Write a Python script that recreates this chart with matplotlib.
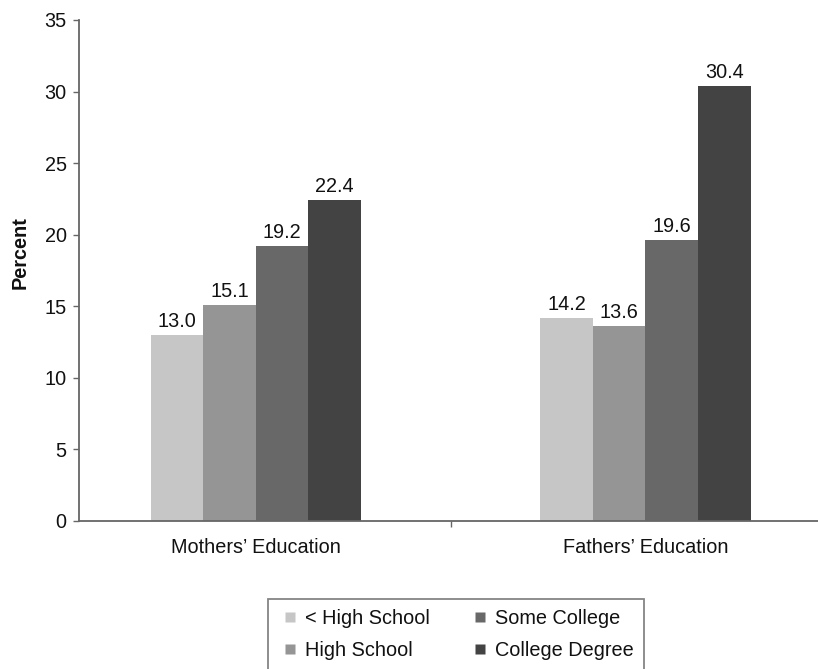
import matplotlib
matplotlib.use("Agg")
import matplotlib.pyplot as plt
import numpy as np
from matplotlib.lines import Line2D

groups = ["Mothers\u2019 Education", "Fathers\u2019 Education"]
series = ["< High School", "High School", "Some College", "College Degree"]
values = {
    "< High School": [13.0, 14.2],
    "High School": [15.1, 13.6],
    "Some College": [19.2, 19.6],
    "College Degree": [22.4, 30.4],
}
colors = ["#c6c6c6", "#959595", "#686868", "#434343"]
yticks = [0, 5, 10, 15, 20, 25, 30, 35]

plt.rcParams['font.family'] = ['Liberation Sans', 'DejaVu Sans']
FS = 14.3

fig = plt.figure(figsize=(8.18, 6.69), dpi=100)
ax = fig.add_axes([79/818, 1-521/669, 1-79/818, (521-20)/669])

x = np.arange(len(groups))
w = 0.135
for i, s in enumerate(series):
    pos = x + (i - 1.5) * w
    bars = ax.bar(pos, values[s], width=w, color=colors[i], edgecolor='none', zorder=2)
    for xp, v in zip(pos, values[s]):
        ax.annotate(f"{v:.1f}", (xp, v), xytext=(0, 5.8), textcoords='offset points',
                    ha='center', va='baseline', fontsize=FS, color='#111111')

ax.set_ylim(0, 35)
ax.set_xlim(-0.454, 1.443)
ax.set_yticks(yticks)
ax.set_yticklabels([str(t) for t in yticks], fontsize=FS, color='#111111')
ax.tick_params(axis='y', direction='out', length=4, width=1, color='#666666', pad=5)

ax.set_xticks(x)
ax.set_xticklabels(groups, fontsize=FS, color='#111111')
ax.tick_params(axis='x', which='major', length=0, pad=12)
ax.set_xticks([0.5], minor=True)
ax.tick_params(axis='x', which='minor', direction='out', length=4, width=1, color='#666666')

for sp in ['top', 'right']:
    ax.spines[sp].set_visible(False)
for sp in ['left', 'bottom']:
    ax.spines[sp].set_color('#666666')
    ax.spines[sp].set_linewidth(1.3)

fig.text(20/818, 1-253/669, "Percent", rotation=90, ha='center', va='center',
         fontsize=FS, fontweight='bold', color='#111111')

handles = [Line2D([], [], marker='s', linestyle='none', markersize=7.2,
                  markerfacecolor=c, markeredgecolor='none') for c in colors]
leg = fig.legend(handles, series, loc='upper center', bbox_to_anchor=(456/818, 1-599/669),
                 ncol=2, fontsize=FS, frameon=True, fancybox=False, handlelength=1.2,
                 handletextpad=0.13, columnspacing=1.95, labelspacing=0.68, borderpad=0.5,
                 borderaxespad=0)
leg.get_frame().set_edgecolor('#666666')
leg.get_frame().set_linewidth(1.3)
for t in leg.get_texts():
    t.set_color('#111111')

fig.savefig("out.png", dpi=100)
